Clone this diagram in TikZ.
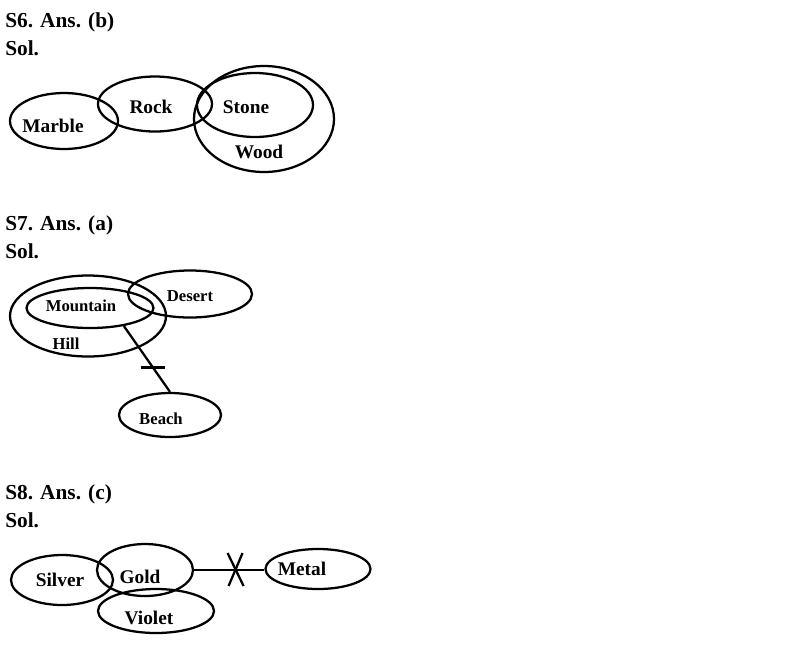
\documentclass[tikz,border=0pt]{standalone}
\usepackage{fontspec}
\setmainfont{Liberation Serif}
\usepackage{xcolor}
\usepackage{tikz}
\usetikzlibrary{shapes.geometric}

\tikzset{
  bag/.style 2 args={draw,ellipse,line width=1.7pt,inner sep=0pt,
    minimum width=#1*0.75pt,minimum height=#2*0.75pt},
  word/.style={font=\bfseries\fontsize{14.5}{16}\selectfont,inner sep=0pt},
  small word/.style={font=\bfseries\fontsize{12.5}{14}\selectfont,inner sep=0pt},
  head/.style={font=\bfseries\fontsize{16}{18}\selectfont,inner sep=0pt,anchor=base west},
  link/.style={line width=1.7pt}
}

\begin{document}
\begin{tikzpicture}[x=0.75pt,y=-0.75pt]
%\draw[color=black!20,step=50] (0,0) grid (810,644);
\useasboundingbox (0,0) rectangle (810,644);
\node[head] (h6) at (5,27) {S6. Ans. (b)};
\node[head] (s6) at (5,55) {Sol.};
\node[bag={108}{56}] (marble) at (64,121) {};
\node[bag={114}{55}] (rock) at (155,104) {};
\node[bag={116}{64}] (stone) at (255,105) {};
\node[bag={140}{106}] (wood) at (264,119) {};
\node[word] at (53,126) {Marble};
\node[word] at (151,107) {Rock};
\node[word] at (246,107) {Stone};
\node[word] at (259,152) {Wood};

\node[head] (h7) at (5,230) {S7. Ans. (a)};
\node[head] (s7) at (5,258) {Sol.};
\node[bag={156}{81}] (hill) at (88,316) {};
\node[bag={127}{40}] (mountain) at (90,308) {};
\node[bag={124}{47}] (desert) at (190,294) {};
\node[bag={102}{44}] (beach) at (170,415) {};
\node[small word] at (81,306) {Mountain};
\node[small word] at (190,296) {Desert};
\node[small word] at (66,344) {Hill};
\node[small word] at (161,419) {Beach};
\draw[link] (mountain.-28) -- coordinate[pos=0.63] (cut7) (beach.north);
\draw[link] ([xshift=-12*0.75pt]cut7) -- ([xshift=12*0.75pt]cut7);

\node[head] (h8) at (5,499) {S8. Ans. (c)};
\node[head] (s8) at (5,527) {Sol.};
\node[bag={102}{50}] (silver) at (62,580) {};
\node[bag={96}{52}] (gold) at (145,570) {};
\node[bag={116}{44}] (violet) at (156,611) {};
\node[bag={105}{40}] (metal) at (318,569) {};
\node[word] at (60,580) {Silver};
\node[word] at (140,577) {Gold};
\node[word] at (149,618) {Violet};
\node[word] at (302,569) {Metal};
\draw[link] (gold.east) -- coordinate[pos=0.59] (cut8) (gold.east -| metal.west);
\draw[link] ([shift={(-8,-17)}]cut8) -- ([shift={(8,16)}]cut8);
\draw[link] ([shift={(7,-17)}]cut8) -- ([shift={(-7,16)}]cut8);
\end{tikzpicture}
\end{document}
